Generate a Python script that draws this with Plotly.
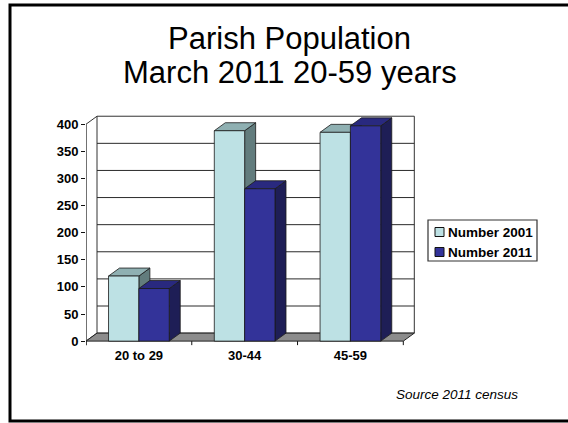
import plotly.graph_objects as go

# ---- data ----
categories = ["20 to 29", "30-44", "45-59"]
number_2001 = [120, 388, 385]
number_2011 = [97, 281, 397]
y_ticks = [0, 50, 100, 150, 200, 250, 300, 350, 400]
series_names = ["Number 2001", "Number 2011"]
title_lines = ["Parish Population", "March 2011 20-59 years"]

# ---- styling ----
FONT = "Liberation Sans, Arial, sans-serif"
LIGHT = dict(front="#BDE1E4", top="#8FB0B2", side="#627C7D")
DARK = dict(front="#333399", top="#29297F", side="#1E1E56")
EDGE = "#1a1a1a"

W_PX, H_PX = 568, 423
M_L, M_R, M_T, M_B = 86, 152, 115, 77
X_RANGE = [-0.5, 2.62]
Y_RANGE = [-9, 417]

BAR_W = 0.287          # bar width in category units
DX = 0.104             # depth offset along x (category units)
DY = 14.75             # depth offset along y (value units)
Y_TOP = 400

plot_w = W_PX - M_L - M_R
plot_h = H_PX - M_T - M_B


def px_x(px):
    return (px - M_L) / plot_w


def px_y(py):
    return (H_PX - M_B - py) / plot_h


def poly(points, fill, line=EDGE, width=0.8):
    d = "M " + " L ".join(f"{x},{y}" for x, y in points) + " Z"
    return dict(type="path", path=d, xref="x", yref="y", fillcolor=fill,
                line=dict(color=line, width=width), layer="below")


def seg(x0, y0, x1, y1, color="#222", width=1):
    return dict(type="line", x0=x0, y0=y0, x1=x1, y1=y1, xref="x", yref="y",
                line=dict(color=color, width=width), layer="below")


x0_axis = X_RANGE[0]
x_end = len(categories) - 0.5

shapes = []
# back wall
shapes.append(dict(type="rect", x0=x0_axis + DX, x1=x_end + DX, y0=DY, y1=Y_TOP + DY,
                   xref="x", yref="y", fillcolor="white",
                   line=dict(color="#333", width=1), layer="below"))
# gridlines on the back wall
for v in y_ticks[1:-1]:
    shapes.append(seg(x0_axis + DX, v + DY, x_end + DX, v + DY, color="#2a2a2a", width=1))
# left side wall edges
shapes.append(seg(x0_axis, -7.4, x0_axis, Y_TOP, color="#111", width=1.2))
shapes.append(seg(x0_axis, Y_TOP, x0_axis + DX, Y_TOP + DY, color="#333", width=1))
shapes.append(seg(x0_axis, 0, x0_axis + DX, DY, color="#333", width=1))
# floor
shapes.append(poly([(x0_axis, 0), (x0_axis + DX, DY), (x_end + DX, DY), (x_end, 0)],
                   "#8C8C8C", line="#222", width=1))
# category tick marks below the floor
for k in range(len(categories) + 1):
    xb = k - 0.5
    shapes.append(seg(xb, 0, xb, -7.4, color="#111", width=1))

# top and side faces of each bar, drawn back to front
for i in range(len(categories)):
    for vals, col, off in ((number_2001, LIGHT, -BAR_W), (number_2011, DARK, 0.0)):
        h = vals[i]
        bx0 = i + off
        bx1 = bx0 + BAR_W
        shapes.append(poly([(bx1, 0), (bx1 + DX, DY), (bx1 + DX, h + DY), (bx1, h)], col["side"]))
        shapes.append(poly([(bx0, h), (bx0 + DX, h + DY), (bx1 + DX, h + DY), (bx1, h)], col["top"]))

# legend box with its two swatches
LEG_L, LEG_R, LEG_T, LEG_B = 428, 537, 220, 261
LEG_ROWS = [232, 252]
shapes.append(dict(type="rect", xref="paper", yref="paper",
                   x0=px_x(LEG_L), x1=px_x(LEG_R), y0=px_y(LEG_B), y1=px_y(LEG_T),
                   line=dict(color="#333", width=1.2), fillcolor="white", layer="above"))
for row, col in zip(LEG_ROWS, (LIGHT, DARK)):
    shapes.append(dict(type="rect", xref="paper", yref="paper",
                       x0=px_x(435), x1=px_x(444), y0=px_y(row + 4.5), y1=px_y(row - 4.5),
                       line=dict(color="#111", width=1), fillcolor=col["front"], layer="above"))

# outer frame
shapes.append(dict(type="rect", xref="paper", yref="paper",
                   x0=px_x(10), x1=px_x(640), y0=px_y(421), y1=px_y(5),
                   line=dict(color="black", width=3), fillcolor="rgba(0,0,0,0)",
                   layer="above"))

fig = go.Figure()
for name, vals, col, off in ((series_names[0], number_2001, LIGHT, -BAR_W),
                             (series_names[1], number_2011, DARK, 0.0)):
    fig.add_trace(go.Bar(
        x=list(range(len(categories))), y=vals, name=name,
        width=BAR_W, offset=off, showlegend=False,
        marker=dict(color=col["front"], line=dict(color=EDGE, width=0.8)),
        hovertemplate="%{y}<extra>" + name + "</extra>",
    ))

annotations = []
for line, cy in zip(title_lines, (38, 73)):
    annotations.append(dict(text=line, xref="paper", yref="paper",
                            x=px_x(289.5), y=px_y(cy), xanchor="center", yanchor="middle",
                            showarrow=False,
                            font=dict(family=FONT, size=31, color="black")))
for name, row in zip(series_names, LEG_ROWS):
    annotations.append(dict(text=name, xref="paper", yref="paper",
                            x=px_x(446), y=px_y(row), xanchor="left", yanchor="middle",
                            showarrow=False,
                            font=dict(family=FONT, size=13.5, color="black", weight="bold")))
annotations.append(dict(text="Source 2011 census", xref="paper", yref="paper",
                        x=px_x(394), y=px_y(394), xanchor="left", yanchor="middle",
                        showarrow=False,
                        font=dict(family=FONT, size=13.5, color="black", style="italic")))

fig.update_layout(
    width=W_PX, height=H_PX,
    margin=dict(l=M_L, r=M_R, t=M_T, b=M_B, pad=0),
    paper_bgcolor="white", plot_bgcolor="white",
    font=dict(family=FONT, size=12, color="black"),
    barmode="overlay",
    showlegend=False,
    xaxis=dict(range=X_RANGE, tickvals=list(range(len(categories))), ticktext=categories,
               ticks="", showgrid=False, zeroline=False, showline=False,
               tickfont=dict(family=FONT, size=13, color="black", weight="bold")),
    yaxis=dict(range=Y_RANGE, tickvals=y_ticks, ticks="outside", ticklen=4,
               tickcolor="#111", showgrid=False, zeroline=False, showline=False,
               tickfont=dict(family=FONT, size=13, color="black", weight="bold")),
    shapes=shapes,
    annotations=annotations,
)

fig.write_html("out.html")
